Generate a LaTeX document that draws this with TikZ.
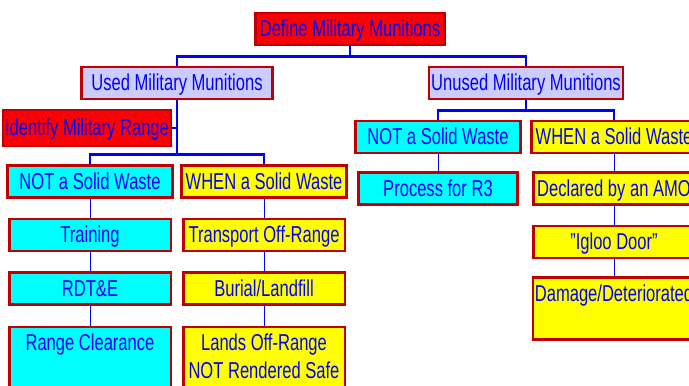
\documentclass[tikz,border=0pt]{standalone}
\usepackage{fontspec}
\setmainfont{Liberation Sans}[FakeStretch=0.72]
\usetikzlibrary{positioning,calc}
\definecolor{boxred}{HTML}{C00000}
\definecolor{lilac}{HTML}{CCCCFF}
\definecolor{aqua}{HTML}{00FFFF}
\definecolor{lemon}{HTML}{FFFF00}
\definecolor{scarlet}{HTML}{FF0000}
\definecolor{inkblue}{HTML}{0000FF}
\newcommand{\twoline}[1]{\begin{tabular}[t]{@{}c@{}}#1\end{tabular}}

\begin{document}
\begin{tikzpicture}[
    x=1pt, y=-1pt,
    node distance=19pt,
    box/.style={rectangle, draw=boxred, line width=2.5pt, text=inkblue,
                minimum width=161.5pt, inner xsep=2pt, inner ysep=5.5pt,
                text height=18pt, text depth=3pt,
                font=\fontsize{23pt}{28pt}\selectfont},
    rootbox/.style={box, fill=scarlet},
    usedbox/.style={box, fill=lilac},
    notbox/.style={box, fill=aqua},
    whenbox/.style={box, fill=lemon},
    bus/.style={draw=inkblue, line width=2.5pt},
    link/.style={draw=inkblue, line width=1pt}
  ]
  \clip (0,0) rectangle (689,386);

  \node[rootbox, minimum width=189pt] (define) at (350,29) {Define Military Munitions};
  \node[usedbox, minimum width=191pt] (used) at (177,83) {Used Military Munitions};
  \node[usedbox, minimum width=189pt] (unused) at (526,83) {Unused Military Munitions};
  \node[rootbox, minimum width=163pt, minimum height=36pt] (ident) at (87,128) {Identify Military Range};

  % used munitions
  \node[notbox, minimum width=165pt] (notused) at (90,181.5) {NOT a Solid Waste};
  \node[notbox, below=of notused] (training) {Training};
  \node[notbox, below=of training] (rdte) {RDT\&E};
  \node[notbox, below=20pt of rdte, text depth=60pt] (clearance) {Range Clearance};

  \node[whenbox, minimum width=165pt] (whenused) at (264,181.5) {WHEN a Solid Waste};
  \node[whenbox, below=of whenused] (transport) {Transport Off-Range};
  \node[whenbox, below=of transport] (burial) {Burial/Landfill};
  \node[whenbox, below=20pt of burial, text depth=60pt] (offrange)
    {\twoline{Lands Off-Range\\NOT Rendered Safe}};

  % unused munitions
  \node[notbox, minimum width=165pt] (notunused) at (438,137) {NOT a Solid Waste};
  \node[notbox, minimum width=159pt, below=17pt of notunused] (process) {Process for R3};

  \node[whenbox, minimum width=165pt] (whenunused) at (614,137) {WHEN a Solid Waste};
  \node[whenbox, below=17pt of whenunused] (amo) {Declared by an AMO};
  \node[whenbox, below=of amo] (igloo) {"Igloo Door"};
  \node[whenbox, below=17pt of igloo, text depth=33pt] (damage) {Damage/Deteriorated};

  % tree buses
  \coordinate (defbus) at ($(define.south)+(0,10)$);
  \draw[bus] (define.south) -- (defbus) -| (used.north);
  \draw[bus] (defbus) -| (unused.north);

  \coordinate (usedbus) at ($(used.south)+(0,54)$);
  \draw[bus] (used.south) -- (usedbus) -| (notused.north);
  \draw[bus] (usedbus) -| (whenused.north);
  \draw[bus] (ident.east) -- (ident.east -| used.south);

  \coordinate (unusedbus) at ($(unused.south)+(0,10)$);
  \draw[bus] (unused.south) -- (unusedbus) -| (notunused.north);
  \draw[bus] (unusedbus) -| (whenunused.north);

  % chains
  \draw[link] (notused) -- (training);
  \draw[link] (training) -- (rdte);
  \draw[link] (rdte) -- (clearance);
  \draw[link] (whenused) -- (transport);
  \draw[link] (transport) -- (burial);
  \draw[link] (burial) -- (offrange);
  \draw[link] (notunused) -- (process);
  \draw[link] (whenunused) -- (amo);
  \draw[link] (amo) -- (igloo);
  \draw[link] (igloo) -- (damage);
\end{tikzpicture}
\end{document}
